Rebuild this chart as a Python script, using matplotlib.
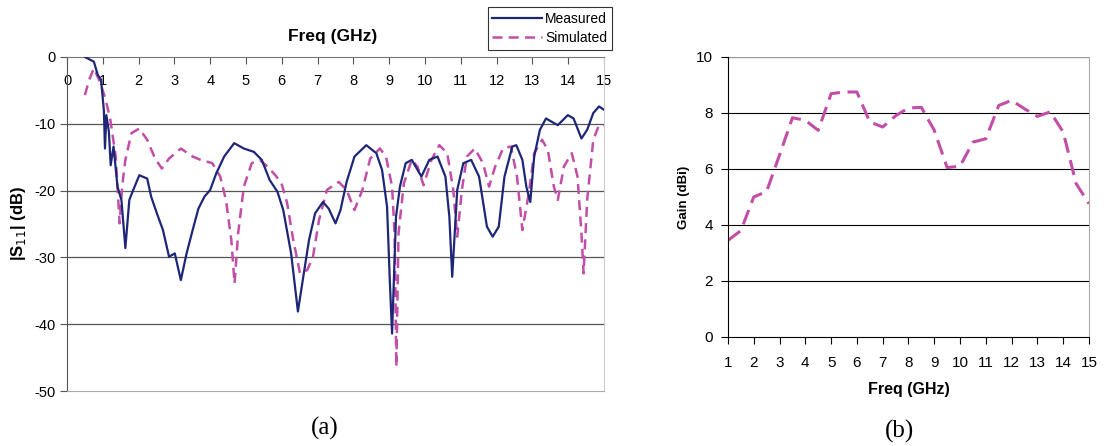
import numpy as np
import matplotlib
matplotlib.use("Agg")
import matplotlib.pyplot as plt

plt.rcParams["font.family"] = ["Liberation Sans", "DejaVu Sans"]
plt.rcParams["axes.unicode_minus"] = False

# (a) |S11| measured / simulated
meas_f = [0.5, 0.75, 0.86, 0.95, 1.03, 1.06, 1.1, 1.17, 1.22, 1.3, 1.41, 1.52, 1.63,
          1.74, 1.85, 2.02, 2.24, 2.35, 2.51, 2.68, 2.85, 3.01, 3.18, 3.34, 3.51, 3.67,
          3.84, 4.0, 4.17, 4.39, 4.67, 4.94, 5.22, 5.44, 5.66, 5.88, 6.04, 6.26, 6.45,
          6.6, 6.76, 6.93, 7.15, 7.31, 7.5, 7.64, 7.81, 8.03, 8.36, 8.64, 8.8, 8.94,
          9.02, 9.08, 9.19, 9.3, 9.46, 9.63, 9.9, 10.12, 10.35, 10.57, 10.68, 10.76,
          10.9, 11.07, 11.29, 11.51, 11.73, 11.89, 12.06, 12.22, 12.44, 12.55, 12.72,
          12.83, 12.94, 13.05, 13.21, 13.38, 13.54, 13.71, 13.99, 14.15, 14.37, 14.53,
          14.7, 14.86, 15.0]
meas_db = [0.0, -0.7, -2.7, -3.4, -8.0, -13.7, -8.7, -11.2, -16.2, -13.4, -19.4, -21.4,
           -28.6, -21.4, -19.9, -17.7, -18.2, -20.9, -23.4, -25.9, -29.9, -29.4, -33.4,
           -29.4, -25.9, -22.7, -20.9, -19.9, -17.4, -14.9, -12.9, -13.7, -14.2, -15.4,
           -18.4, -20.2, -22.9, -29.4, -38.1, -32.9, -27.4, -23.4, -21.7, -22.7, -24.9,
           -22.9, -18.7, -14.9, -13.2, -14.4, -16.9, -22.4, -33.9, -41.4, -23.9, -19.4,
           -15.9, -15.4, -17.9, -15.4, -14.9, -17.9, -23.9, -32.9, -19.9, -15.9, -15.4,
           -17.9, -25.4, -26.9, -25.4, -17.9, -13.4, -13.2, -15.4, -19.4, -21.7, -14.9,
           -10.9, -9.2, -9.7, -10.2, -8.7, -9.2, -12.2, -10.9, -8.4, -7.4, -7.9]

sim_f = [0.5, 0.62, 0.75, 0.92, 1.08, 1.21, 1.36, 1.47, 1.54, 1.63, 1.8, 2.02, 2.24,
         2.46, 2.65, 2.85, 3.18, 3.51, 3.73, 4.06, 4.28, 4.44, 4.59, 4.68, 4.78, 4.94,
         5.16, 5.38, 5.6, 5.82, 5.99, 6.15, 6.32, 6.51, 6.71, 6.87, 7.04, 7.26, 7.59,
         7.81, 8.03, 8.25, 8.47, 8.74, 8.91, 9.08, 9.15, 9.2, 9.26, 9.41, 9.63, 9.79,
         9.96, 10.18, 10.4, 10.62, 10.79, 10.9, 11.03, 11.17, 11.39, 11.62, 11.79,
         11.96, 12.18, 12.4, 12.57, 12.72, 12.9, 13.05, 13.27, 13.43, 13.6, 13.71,
         13.88, 14.1, 14.26, 14.37, 14.43, 14.53, 14.7, 14.86, 15.0]
sim_db = [-5.7, -3.4, -1.7, -3.7, -6.4, -9.4, -14.9, -24.9, -19.4, -15.4, -11.4, -10.7,
          -12.4, -15.2, -16.7, -15.2, -13.7, -14.9, -15.4, -15.9, -17.9, -21.4, -27.4,
          -33.9, -26.4, -19.4, -15.9, -15.4, -16.4, -17.7, -18.9, -21.9, -27.4, -32.4,
          -31.9, -29.9, -24.4, -19.9, -18.7, -19.9, -22.9, -19.9, -15.2, -13.7, -14.9,
          -19.4, -26.4, -46.4, -26.4, -18.9, -15.4, -16.4, -19.2, -15.4, -13.2, -14.4,
          -19.9, -26.9, -19.9, -14.9, -13.7, -15.9, -19.4, -16.4, -13.7, -13.4, -17.9,
          -25.9, -20.4, -14.4, -12.4, -13.9, -19.4, -21.4, -16.4, -14.4, -17.9, -26.4,
          -32.4, -21.4, -12.4, -10.2, -10.2]

# (b) gain
gain_f = [1, 1.5, 2, 2.5, 3, 3.5, 4, 4.5, 5, 5.5, 6, 6.5, 7, 7.5, 8, 8.5, 9, 9.5, 10,
          10.5, 11, 11.5, 12, 12.5, 13, 13.5, 14, 14.5, 15]
gain_dbi = [3.45, 3.8, 5.0, 5.2, 6.5, 7.83, 7.74, 7.38, 8.69, 8.75, 8.75, 7.68, 7.5, 7.9,
            8.18, 8.2, 7.38, 6.05, 6.1, 6.96, 7.08, 8.27, 8.45, 8.15, 7.88, 8.04, 7.32,
            5.48, 4.76]

navy = "#1e2678"
pink = "#c24ea8"

fig = plt.figure(figsize=(11.04, 4.46), dpi=100)

# ---- (a)
ax1 = fig.add_axes([0.0607, 0.1233, 0.4864, 0.7489])
for y in [-10, -20, -30, -40]:
    ax1.axhline(y, color="#555555", linewidth=0.9, zorder=1)
l1, = ax1.plot(meas_f, meas_db, color=navy, linewidth=1.6, zorder=3, label="Measured")
l2, = ax1.plot(sim_f, sim_db, color=pink, linewidth=1.8, dashes=(4, 2.5), zorder=2,
               label="Simulated")
ax1.set_xlim(0, 15)
ax1.set_ylim(-50, 0)
ax1.xaxis.tick_top()
ax1.set_xticks(range(0, 16))
ax1.set_yticks(range(-50, 1, 10))
ax1.tick_params(axis="x", direction="in", length=5, pad=-22, labelsize=10.5,
                color="#555555")
ax1.tick_params(axis="y", direction="out", length=5, labelsize=10.5, pad=3,
                color="#555555")
ax1.spines["left"].set_color("#555555")
ax1.spines["top"].set_color("#777777")
ax1.spines["bottom"].set_color("#aaaaaa")
ax1.spines["right"].set_color("#cccccc")
ax1.set_ylabel("|S$_{11}$| (dB)", fontsize=12, fontweight="bold", labelpad=5)
fig.text(333 / 1104, 1 - 37 / 446, "Freq (GHz)", ha="center", va="center",
         fontsize=12.5, fontweight="bold")
leg = fig.legend(handles=[l1, l2], loc="upper right",
                 bbox_to_anchor=(612 / 1104, 1 - 7 / 446), fontsize=10,
                 frameon=True, fancybox=False, handlelength=3.6, handletextpad=0.2,
                 borderpad=0.35, labelspacing=0.35, borderaxespad=0)
leg.get_frame().set_edgecolor("black")
leg.get_frame().set_linewidth(0.8)
fig.text(325 / 1104, 1 - 428 / 446, "(a)", ha="center", va="center",
         fontsize=18, family="Liberation Serif")

# ---- (b)
ax2 = fig.add_axes([0.6594, 0.2444, 0.3270, 0.6278])
for y in [2, 4, 6, 8]:
    ax2.axhline(y, color="black", linewidth=0.8, zorder=1)
ax2.axhline(10, color="#999999", linewidth=1.0, zorder=1)
ax2.plot(gain_f, gain_dbi, color=pink, linewidth=2.2, dashes=(5, 2.5), zorder=2)
ax2.set_xlim(1, 15)
ax2.set_ylim(0, 10)
ax2.set_xticks(range(1, 16))
ax2.set_yticks(range(0, 11, 2))
ax2.tick_params(axis="both", direction="out", length=5, labelsize=11, color="black")
ax2.tick_params(axis="x", pad=9)
ax2.tick_params(axis="y", pad=6)
ax2.spines["top"].set_visible(False)
ax2.spines["right"].set_color("#aaaaaa")
ax2.set_xlabel("Freq (GHz)", fontsize=11.5, fontweight="bold", labelpad=8)
ax2.set_ylabel("Gain (dBi)", fontsize=9.5, fontweight="bold", labelpad=4)
fig.text(900 / 1104, 1 - 431 / 446, "(b)", ha="center", va="center",
         fontsize=18, family="Liberation Serif")

plt.savefig("out.png", dpi=100)
